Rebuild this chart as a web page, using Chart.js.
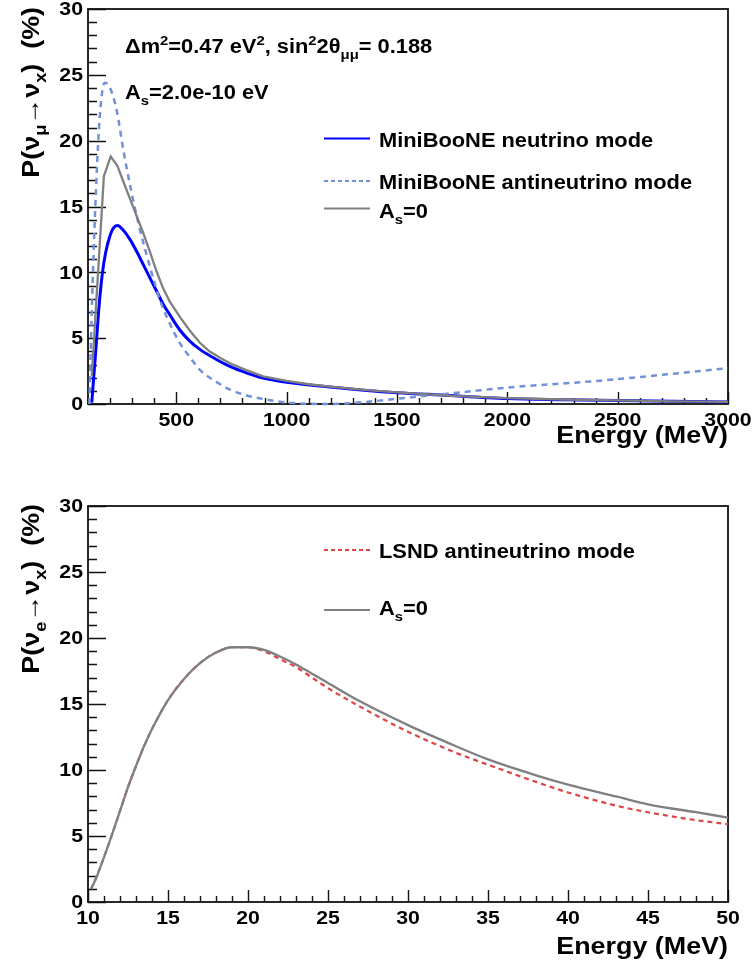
<!DOCTYPE html>
<html>
<head>
<meta charset="UTF-8">
<title>Oscillation probability vs energy</title>
<script src="https://cdn.jsdelivr.net/npm/chart.js"></script>
<style>
    body { margin: 0; background: #fff; }
    .pad { position: absolute; left: 0; width: 754px; }
    #topPad { top: 0; height: 485px; }
    #bottomPad { top: 485px; height: 486px; }
</style>
</head>
<body>
<div class="pad" id="topPad"><canvas id="topChart"></canvas></div>
<div class="pad" id="bottomPad"><canvas id="bottomChart"></canvas></div>

<script>
// ---- top pad: MiniBooNE, energy in MeV, probability in %
const nuModeE = [117, 135, 150, 165, 180, 200, 215, 233, 260, 290, 320, 350, 380, 410, 440, 470, 517, 560, 607, 680, 743, 820, 894, 1000, 1196, 1350, 1500, 1700, 2000, 2250, 2500, 2750, 3000];
const nuModeP = [0.1, 4.0, 7.4, 9.9, 11.5, 12.8, 13.35, 13.55, 13.2, 12.5, 11.6, 10.6, 9.6, 8.6, 7.6, 6.8, 5.6, 4.8, 4.15, 3.4, 2.85, 2.35, 1.97, 1.65, 1.29, 1.05, 0.86, 0.68, 0.42, 0.33, 0.26, 0.2, 0.15];

const antiModeE = [106, 117, 132, 150, 165, 177, 200, 230, 260, 298, 330, 366, 400, 426, 460, 517, 560, 607, 680, 743, 820, 894, 1000, 1100, 1200, 1300, 1400, 1500, 1680, 1800, 2000, 2200, 2420, 2600, 2800, 3000];
const antiModeP = [0.0, 7.0, 14.5, 21.0, 23.8, 24.4, 24.0, 22.3, 19.3, 16.0, 13.6, 11.3, 9.3, 7.9, 6.5, 4.6, 3.6, 2.6, 1.7, 1.1, 0.65, 0.38, 0.12, 0.02, 0.0, 0.08, 0.22, 0.4, 0.7, 0.9, 1.25, 1.5, 1.77, 2.05, 2.38, 2.72];

const noAsTopE = [117, 172, 203, 233, 260, 290, 320, 350, 380, 410, 440, 470, 517, 560, 607, 650, 700, 743, 820, 894, 1000, 1100, 1196, 1350, 1500, 1750, 2000, 2250, 2500, 2750, 3000];
const noAsTopP = [2.1, 17.3, 18.8, 18.1, 16.9, 15.6, 14.3, 13.0, 11.6, 10.1, 8.8, 7.8, 6.6, 5.6, 4.65, 4.0, 3.5, 3.1, 2.55, 2.1, 1.75, 1.5, 1.32, 1.08, 0.88, 0.62, 0.45, 0.34, 0.27, 0.2, 0.16];

const topXTicks = [500, 1000, 1500, 2000, 2500, 3000];

// ---- bottom pad: LSND, energy in MeV
const lsndE = [10.2, 10.5, 11, 11.5, 12, 12.5, 13, 13.5, 14, 15, 16, 17, 18, 19, 20, 21, 22, 23, 24, 25, 27, 30, 33, 35, 38, 40, 43, 45, 48, 50];
const lsndP = [1.0, 1.8, 3.4, 5.1, 6.9, 8.7, 10.3, 11.8, 13.1, 15.3, 16.9, 18.1, 18.9, 19.3, 19.3, 19.0, 18.4, 17.8, 17.0, 16.2, 14.8, 12.9, 11.3, 10.4, 9.1, 8.3, 7.3, 6.8, 6.2, 5.9];
const noAsBottomP = [1.0, 1.8, 3.4, 5.1, 6.9, 8.7, 10.3, 11.8, 13.1, 15.3, 16.9, 18.1, 18.9, 19.3, 19.3, 19.1, 18.6, 18.0, 17.3, 16.6, 15.2, 13.4, 11.8, 10.8, 9.6, 8.9, 8.0, 7.4, 6.8, 6.4];

const bottomXTicks = [10, 15, 20, 25, 30, 35, 40, 45, 50];
const yTicks = [0, 5, 10, 15, 20, 25, 30];

const FONT = '"Liberation Sans", Arial, Helvetica, sans-serif';
const SX = 1.12; // Helvetica bold is a bit wider than what we have installed
const LABEL_SIZE = 19;
const TEXT_SIZE = 19.5;
const TITLE_SIZE = 24;

const BLUE = '#0000ff';
const LIGHT_BLUE = '#7391d9';
const GREY = '#808080';
const RED = '#e04444';

function pts(xs, ys) {
    return xs.map((x, i) => ({ x: x, y: ys[i] }));
}

// text with sub/superscripts: parts = [{t, sub, sup}]
function richWidth(ctx, parts, size) {
    let w = 0;
    parts.forEach(p => {
        ctx.font = 'bold ' + ((p.sub || p.sup) ? size * 0.68 : size) + 'px ' + FONT;
        w += ctx.measureText(p.t).width;
    });
    return w * SX;
}
function drawRich(ctx, parts, x, y, size, align) {
    const total = richWidth(ctx, parts, size);
    ctx.save();
    ctx.translate(align === 'right' ? x - total : x, y);
    ctx.scale(SX, 1);
    ctx.fillStyle = '#000';
    ctx.textAlign = 'left';
    ctx.textBaseline = 'alphabetic';
    let cx = 0;
    parts.forEach(p => {
        const s = (p.sub || p.sup) ? size * 0.68 : size;
        ctx.font = 'bold ' + s + 'px ' + FONT;
        const dy = p.sub ? size * 0.3 : (p.sup ? -size * 0.42 : 0);
        ctx.fillText(p.t, cx, dy);
        cx += ctx.measureText(p.t).width;
    });
    ctx.restore();
}
function drawPlain(ctx, text, x, y, size, align, baseline) {
    ctx.save();
    ctx.font = 'bold ' + size + 'px ' + FONT;
    const w = ctx.measureText(text).width * SX;
    let x0 = x;
    if (align === 'center') x0 = x - w / 2;
    if (align === 'right') x0 = x - w;
    ctx.translate(x0, y);
    ctx.scale(SX, 1);
    ctx.fillStyle = '#000';
    ctx.textAlign = 'left';
    ctx.textBaseline = baseline || 'alphabetic';
    ctx.fillText(text, 0, 0);
    ctx.restore();
}

// ROOT style frame: ticks inside the box, labels and titles outside
const rootPad = {
    id: 'rootPad',
    beforeDatasetsDraw(chart, args, opts) {
        const ctx = chart.ctx, a = chart.chartArea;
        const xs = chart.scales.x, ys = chart.scales.y;
        ctx.save();
        ctx.strokeStyle = '#111';
        ctx.lineWidth = 1.4;
        ctx.beginPath();
        for (let v = ys.min; v <= ys.max + 1e-9; v += 1) {
            const py = Math.round(ys.getPixelForValue(v)) + 0.5;
            const len = (v % 5 === 0) ? 18 : 9;
            ctx.moveTo(a.left, py);
            ctx.lineTo(a.left + len, py);
        }
        const minor = opts.xMinor;
        const first = Math.ceil(xs.min / minor) * minor;
        for (let v = first; v <= xs.max + 1e-9; v += minor) {
            const px = Math.round(xs.getPixelForValue(v)) + 0.5;
            const len = (v % opts.xMajor === 0) ? 12 : 6;
            ctx.moveTo(px, a.bottom);
            ctx.lineTo(px, a.bottom - len);
        }
        ctx.stroke();
        ctx.lineWidth = 1.8;
        ctx.strokeRect(a.left, a.top, a.right - a.left, a.bottom - a.top);
        ctx.restore();
    },
    afterDraw(chart, args, opts) {
        const ctx = chart.ctx, a = chart.chartArea;
        const xs = chart.scales.x, ys = chart.scales.y;
        // tick labels
        yTicks.forEach(v => {
            drawPlain(ctx, String(v), a.left - 5, ys.getPixelForValue(v) + 1, LABEL_SIZE, 'right', 'middle');
        });
        opts.xTicks.forEach(v => {
            drawPlain(ctx, String(v), xs.getPixelForValue(v), a.bottom + 7, LABEL_SIZE, 'center', 'top');
        });
        // axis titles
        drawPlain(ctx, 'Energy (MeV)', a.right, a.bottom + opts.xTitleOffset, TITLE_SIZE, 'right');
        ctx.save();
        ctx.translate(39, a.top - 2);
        ctx.rotate(-Math.PI / 2);
        drawRich(ctx, opts.yTitle, 0, 0, TITLE_SIZE, 'right');
        ctx.restore();
        // legend
        opts.legend.forEach(item => {
            ctx.save();
            ctx.strokeStyle = item.color;
            ctx.lineWidth = item.width;
            ctx.setLineDash(item.dash || []);
            ctx.beginPath();
            ctx.moveTo(324, item.lineY);
            ctx.lineTo(370, item.lineY);
            ctx.stroke();
            ctx.restore();
            drawRich(ctx, item.label, 379, item.textY, TEXT_SIZE, 'left');
        });
        (opts.notes || []).forEach(n => drawRich(ctx, n.parts, n.x, n.y, TEXT_SIZE, 'left'));
    }
};

function padOptions(xMin, xMax, padTop, xHeight, extra) {
    return {
        responsive: true,
        maintainAspectRatio: false,
        animation: false,
        layout: { padding: { top: padTop, right: 26, left: 0, bottom: 0 } },
        elements: { point: { radius: 0 } },
        scales: {
            x: {
                type: 'linear', min: xMin, max: xMax,
                grid: { display: false }, border: { display: false },
                ticks: { display: false },
                afterFit: s => { s.height = xHeight; }
            },
            y: {
                type: 'linear', min: 0, max: 30,
                grid: { display: false }, border: { display: false },
                ticks: { display: false },
                afterFit: s => { s.width = 88; }
            }
        },
        plugins: {
            legend: { display: false },
            tooltip: { enabled: false },
            rootPad: extra
        }
    };
}

const sub = t => ({ t: t, sub: true });
const sup = t => ({ t: t, sup: true });
const txt = t => ({ t: t });

new Chart(document.getElementById('topChart'), {
    type: 'line',
    data: {
        datasets: [
            { label: 'A_s=0', data: pts(noAsTopE, noAsTopP), borderColor: GREY, borderWidth: 2.3, tension: 0, clip: 3 },
            { label: 'MiniBooNE antineutrino mode', data: pts(antiModeE, antiModeP), borderColor: LIGHT_BLUE, borderWidth: 2.5, borderDash: [6, 5], cubicInterpolationMode: 'monotone', clip: 3 },
            { label: 'MiniBooNE neutrino mode', data: pts(nuModeE, nuModeP), borderColor: BLUE, borderWidth: 3, cubicInterpolationMode: 'monotone', clip: 3 }
        ]
    },
    options: padOptions(100, 3000, 9, 81, {
        xMinor: 100, xMajor: 500, xTicks: topXTicks, xTitleOffset: 39,
        yTitle: [txt('P(\u03BD'), sub('\u03BC'), txt('\u2192\u03BD'), sub('x'), txt(')  (%)')],
        legend: [
            { label: [txt('MiniBooNE neutrino mode')], color: BLUE, width: 2, lineY: 138.5, textY: 147 },
            { label: [txt('MiniBooNE antineutrino mode')], color: LIGHT_BLUE, width: 2, dash: [4, 3], lineY: 181, textY: 188.5 },
            { label: [txt('A'), sub('s'), txt('=0')], color: GREY, width: 2, lineY: 208.5, textY: 218 }
        ],
        notes: [
            { x: 125, y: 53, parts: [txt('\u0394m'), sup('2'), txt('=0.47 eV'), sup('2'), txt(', sin'), sup('2'), txt('2\u03B8'), sub('\u03BC\u03BC'), txt('= 0.188')] },
            { x: 125, y: 99, parts: [txt('A'), sub('s'), txt('=2.0e-10 eV')] }
        ]
    }),
    plugins: [rootPad]
});

new Chart(document.getElementById('bottomChart'), {
    type: 'line',
    data: {
        datasets: [
            { label: 'A_s=0', data: pts(lsndE, noAsBottomP), borderColor: GREY, borderWidth: 2.3, cubicInterpolationMode: 'monotone', clip: 3 },
            { label: 'LSND antineutrino mode', data: pts(lsndE, lsndP), borderColor: RED, borderWidth: 2.2, borderDash: [5, 4], cubicInterpolationMode: 'monotone', clip: 3 }
        ]
    },
    options: padOptions(10, 50, 21, 69, {
        xMinor: 1, xMajor: 5, xTicks: bottomXTicks, xTitleOffset: 52,
        yTitle: [txt('P(\u03BD'), sub('e'), txt('\u2192\u03BD'), sub('x'), txt(')  (%)')],
        legend: [
            { label: [txt('LSND antineutrino mode')], color: RED, width: 2, dash: [4, 3], lineY: 65, textY: 73 },
            { label: [txt('A'), sub('s'), txt('=0')], color: GREY, width: 2, lineY: 125, textY: 130 }
        ]
    }),
    plugins: [rootPad]
});
</script>
</body>
</html>
